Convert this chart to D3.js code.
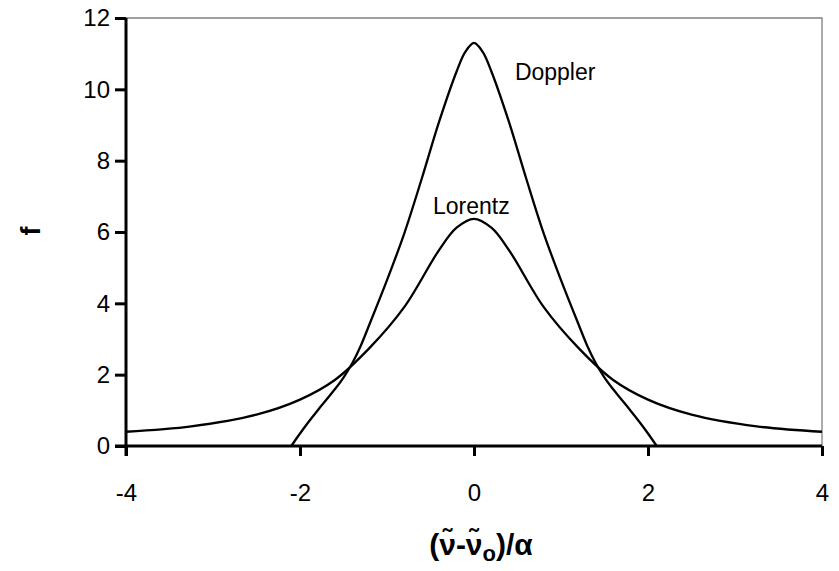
<!DOCTYPE html>
<html><head><meta charset="utf-8">
<script src="https://cdn.jsdelivr.net/npm/d3@7"></script>
<style>body{margin:0;background:#fff}svg{display:block}text{font-family:"Liberation Sans",Arial,sans-serif}</style>
</head><body><svg id="c" width="839" height="571"></svg>
<script>
const dopplerX = [-2.1,-2.0,-1.9,-1.8,-1.7,-1.6,-1.5,-1.4,-1.3,-1.2,-1.0,-0.8,-0.6,-0.4,-0.2,-0.1,0,0.1,0.2,0.4,0.6,0.8,1.0,1.2,1.3,1.4,1.5,1.6,1.7,1.8,1.9,2.0,2.1];
const dopplerY = [0,0.35,0.68,0.99,1.29,1.59,1.92,2.32,2.82,3.42,4.65,5.97,7.5,9.1,10.5,11.05,11.3,11.05,10.5,9.1,7.5,5.97,4.65,3.42,2.82,2.32,1.92,1.59,1.29,0.99,0.68,0.35,0];
const lorentzX = [-4,-3.25,-2.5,-2.0,-1.6,-1.2,-0.8,-0.4,-0.2,0,0.2,0.4,0.8,1.2,1.6,2.0,2.5,3.25,4];
const lorentzY = [0.40,0.55,0.88,1.30,1.85,2.75,3.90,5.50,6.12,6.37,6.12,5.50,3.90,2.75,1.85,1.30,0.88,0.55,0.40];
const xTicks = [-4,-2,0,2,4];
const yTicks = [0,2,4,6,8,10,12];
const labels = [{name:"Doppler", x:0.47, y:10.27, anchor:"start"},{name:"Lorentz", x:-0.03, y:6.5, anchor:"middle"}];

const svg = d3.select("#c");
const L=126, R=822, T=18, B=446;
const x = d3.scaleLinear().domain([-4,4]).range([L,R]);
const y = d3.scaleLinear().domain([0,12]).range([B,T]);

svg.append("path").attr("d",`M${L},${T}H${R}V${B}`).attr("fill","none").attr("stroke","#808080").attr("stroke-width",1.3);

const line = d3.line().x(d=>x(d[0])).y(d=>y(d[1])).curve(d3.curveCatmullRom.alpha(0.5));
svg.append("path").datum(dopplerX.map((v,i)=>[v,dopplerY[i]])).attr("d",line)
  .attr("fill","none").attr("stroke","#000").attr("stroke-width",2.3);
svg.append("path").datum(lorentzX.map((v,i)=>[v,lorentzY[i]])).attr("d",line)
  .attr("fill","none").attr("stroke","#000").attr("stroke-width",2.3);

const xa = svg.append("g").attr("transform",`translate(0,${B})`)
  .call(d3.axisBottom(x).tickValues(xTicks).tickSize(10).tickPadding(28).tickFormat(d=>String(d)));
const ya = svg.append("g").attr("transform",`translate(${L},0)`)
  .call(d3.axisLeft(y).tickValues(yTicks).tickSize(11).tickPadding(5).tickFormat(d=>String(d)));
[xa,ya].forEach(a=>{
  a.select(".domain").remove();
  a.selectAll("line").attr("stroke","#000").attr("stroke-width",3);
  a.selectAll("text").attr("font-size",24).attr("fill","#000").attr("font-family","Liberation Sans, Arial, sans-serif");
});
svg.append("line").attr("x1",L-11).attr("x2",R).attr("y1",B).attr("y2",B).attr("stroke","#000").attr("stroke-width",3);
svg.append("line").attr("x1",L).attr("x2",L).attr("y1",T).attr("y2",B+10).attr("stroke","#000").attr("stroke-width",3);

labels.forEach(l=>{
  svg.append("text").attr("x",x(l.x)).attr("y",y(l.y)).attr("text-anchor",l.anchor)
    .attr("font-size",23).attr("fill","#000").text(l.name);
});

svg.append("text").attr("transform","translate(40,231) rotate(-90)").attr("text-anchor","middle")
  .attr("font-size",27).attr("font-weight","bold").text("f");

const xt = svg.append("text").attr("x",481).attr("y",555).attr("text-anchor","middle")
  .attr("font-size",30).attr("font-weight","bold");
xt.append("tspan").text("(\u03BD\u0303-\u03BD\u0303");
xt.append("tspan").attr("dy",6).attr("font-size",22).text("o");
xt.append("tspan").attr("dy",-6).text(")/\u03B1");
</script></body></html>
